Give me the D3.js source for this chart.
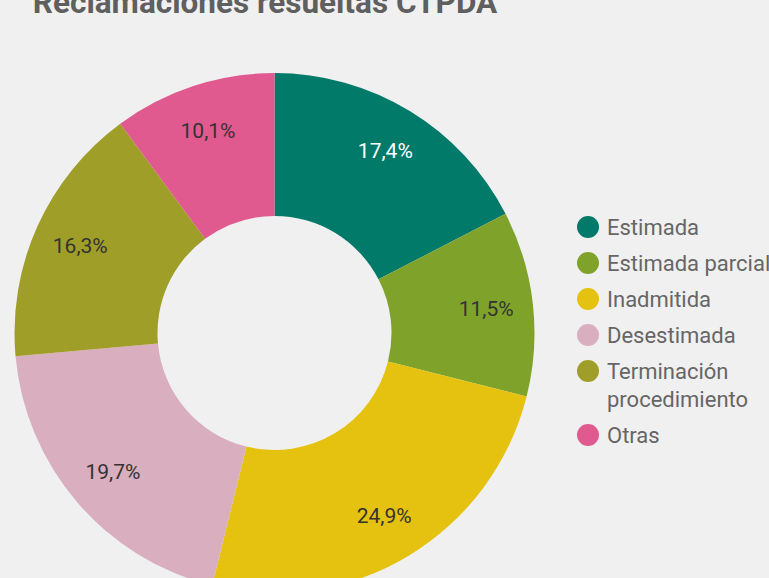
<!DOCTYPE html>
<html><head><meta charset="utf-8">
<script src="https://cdn.jsdelivr.net/npm/d3@7"></script>
<style>body{margin:0;background:#f0f0f0;overflow:hidden;}svg{display:block;font-family:Roboto,"Noto Sans",sans-serif;}</style>
</head><body>
<svg id="c" width="769" height="578"></svg>
<script>
const title = "Reclamaciones resueltas CTPDA";
const categories = ["Estimada","Estimada parcial","Inadmitida","Desestimada","Terminación procedimiento","Otras"];
const legendLines = [["Estimada"],["Estimada parcial"],["Inadmitida"],["Desestimada"],["Terminación","procedimiento"],["Otras"]];
const values = [17.4, 11.5, 24.9, 19.7, 16.3, 10.1];
const colors = ["#027a6a","#7fa32a","#e6c210","#d9aebe","#9f9e28","#e05a90"];
const labelColors = ["#ffffff","#333333","#333333","#333333","#333333","#333333"];

const svg = d3.select("#c");
svg.append("rect").attr("width",769).attr("height",578).attr("fill","#f0f0f0");

svg.append("text").attr("x",265).attr("y",13).attr("text-anchor","middle")
  .attr("font-size",31.5).attr("font-weight","bold").attr("fill","#5f5f5f").text(title);

const cx = 274.5, cy = 333, R = 260, r0 = 117, rl = 213;
const pie = d3.pie().sort(null).value(d=>d);
const arcs = pie(values);
const arc = d3.arc().innerRadius(r0).outerRadius(R);
const g = svg.append("g").attr("transform",`translate(${cx},${cy})`);
g.selectAll("path").data(arcs).join("path").attr("d",arc).attr("fill",(d,i)=>colors[i]);
const larc = d3.arc().innerRadius(rl).outerRadius(rl);
g.selectAll("text").data(arcs).join("text")
  .attr("transform",d=>`translate(${larc.centroid(d)})`)
  .attr("text-anchor","middle").attr("dominant-baseline","central")
  .attr("font-size",21).attr("fill",(d,i)=>labelColors[i])
  .text(d=>d3.format(".1f")(d.data).replace(".",",")+"%");

const lg = svg.append("g");
let y = 227;
legendLines.forEach((lines,i)=>{
  lg.append("circle").attr("cx",588).attr("cy",y).attr("r",11).attr("fill",colors[i]);
  lines.forEach((t,j)=>{
    lg.append("text").attr("x",607).attr("y",y+j*28).attr("dominant-baseline","central")
      .attr("font-size",22).attr("fill","#666666").text(t);
  });
  y += 36 + (lines.length-1)*28;
});
</script>
</body></html>
